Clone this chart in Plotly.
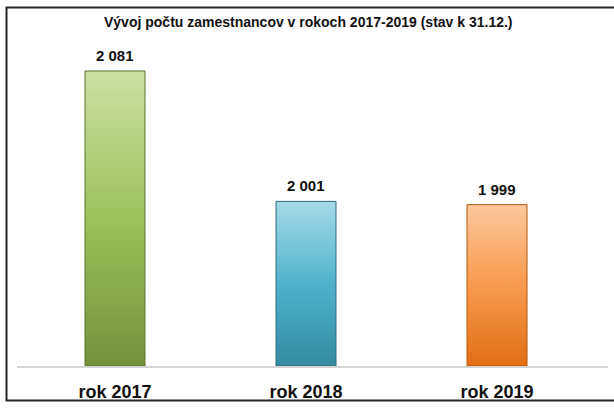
import plotly.graph_objects as go

categories = ["rok 2017", "rok 2018", "rok 2019"]
employees = [2081, 2001, 1999]
title_text = "Vývoj počtu zamestnancov v rokoch 2017-2019 (stav k 31.12.)"

# (dark bottom, mid, light top, edge)
bar_colors = [
    ("#728f3b", "#9cc05a", "#cbe0a3", "#5b722f"),
    ("#34889f", "#4db0ca", "#a3d9ea", "#2a6d80"),
    ("#df6c12", "#f8984a", "#fcc69a", "#b45708"),
]

Y_MIN, Y_MAX = 1900, 2100
HALF = 0.157

fig = go.Figure()
for i, (cat, val) in enumerate(zip(categories, employees)):
    dark, mid, light, edge = bar_colors[i]
    xs = [i - HALF, i + HALF, i + HALF, i - HALF, i - HALF]
    ys = [Y_MIN, Y_MIN, val, val, Y_MIN]
    fig.add_trace(go.Scatter(
        x=xs, y=ys, mode="lines", fill="toself",
        line=dict(color=edge, width=1),
        fillgradient=dict(type="vertical", start=Y_MIN, stop=val,
                          colorscale=[[0, dark], [0.5, mid], [1, light]]),
        hoverinfo="skip", showlegend=False, name=cat,
    ))

for i, val in enumerate(employees):
    fig.add_annotation(
        x=i, y=val, text=f"{val:,}".replace(",", " "),
        showarrow=False, yanchor="bottom", yshift=5,
        font=dict(family="Liberation Sans, Arial", size=15, color="#111111", weight="bold"),
    )

fig.add_annotation(
    xref="paper", yref="paper", x=(308.5 - 17) / 591, y=1 + (40 - 21.5) / 331,
    text=f"<b>{title_text}</b>", showarrow=False, xanchor="center", yanchor="middle",
    font=dict(family="Liberation Sans, Arial", size=14, color="#111111"),
)

# outer frame (right edge lies outside the picture, as in the reference)
fig.add_shape(type="rect", xref="paper", yref="paper",
              x0=(6.5 - 17) / 591, x1=(630 - 17) / 591,
              y0=-(406 - 371) / 331, y1=1 + (40 - 7) / 331,
              line=dict(color="#262626", width=2), layer="above")

fig.update_layout(
    width=614, height=408,
    margin=dict(l=17, r=6, t=40, b=37),
    plot_bgcolor="white", paper_bgcolor="white",
    showlegend=False,
    xaxis=dict(range=[-0.513, 2.581], tickvals=list(range(len(categories))),
               ticktext=categories, showgrid=False, zeroline=False,
               showline=True, linecolor="#d4d4d4", linewidth=2,
               ticks="", ticklabelstandoff=8,
               tickfont=dict(family="Liberation Sans, Arial", size=18, color="#111111", weight="bold")),
    yaxis=dict(range=[Y_MIN, Y_MAX], visible=False, fixedrange=True),
)

fig.write_html("out.html", config={"displayModeBar": False},
               post_script="document.body.style.margin='0';document.body.style.overflow='hidden';")
